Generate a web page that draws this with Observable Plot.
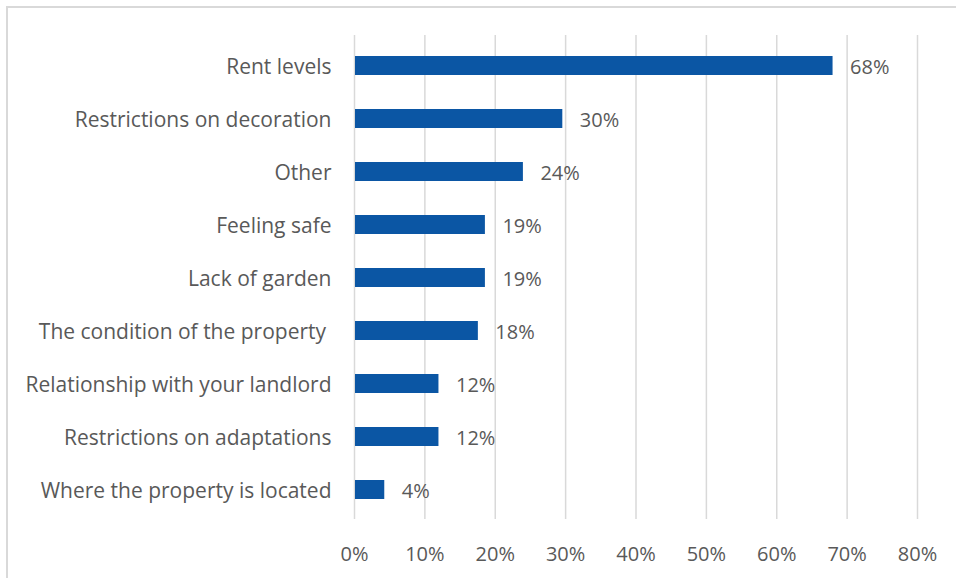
<!DOCTYPE html>
<html><head><meta charset="utf-8">
<script src="https://cdn.jsdelivr.net/npm/d3@7"></script>
<script src="https://cdn.jsdelivr.net/npm/@observablehq/plot@0.6"></script>
<style>
html,body{margin:0;padding:0;background:#fff;overflow:hidden;width:956px;height:578px}
#wrap{position:relative;width:956px;height:578px;overflow:hidden}
#frame{position:absolute;left:6px;top:6px;width:1000px;height:1000px;border:2px solid #d9d9d9;box-sizing:border-box;pointer-events:none}
svg{display:block}
</style></head>
<body><div id="wrap"><div id="frame"></div><div id="chart"></div></div>
<script>
const categories = ["Rent levels","Restrictions on decoration","Other","Feeling safe","Lack of garden","The condition of the property\u00A0","Relationship with your landlord","Restrictions on adaptations","Where the property is located"];
const values = [0.68,0.296,0.24,0.186,0.186,0.176,0.12,0.12,0.043];
const valueLabels = ["68%","30%","24%","19%","19%","18%","12%","12%","4%"];
const xTicks = [0,0.1,0.2,0.3,0.4,0.5,0.6,0.7,0.8];
const data = categories.map((c,i)=>({category:c, value:values[i], label:valueLabels[i]}));
const font = "'Open Sans', sans-serif";
const fsCat = 21, fsNum = 20;
const chart = Plot.plot({
  width:956, height:578,
  marginLeft:354, marginRight:39, marginTop:35, marginBottom:59,
  style:{fontFamily:font, fontSize:fsNum+"px", color:"#595959", background:"transparent"},
  x:{domain:[0,0.8], ticks:xTicks, tickFormat:d=>Math.round(d*100)+"%"},
  y:{domain:categories, paddingInner:0.647, paddingOuter:0.318, label:null},
  marks:[
    Plot.gridX(xTicks,{stroke:"#d9d9d9", strokeOpacity:1, strokeWidth:1.5}),
    Plot.barX(data,{x:"value", y:"category", fill:"#0b56a4", inset:0, insetLeft:1}),
    Plot.text(data,{x:"value", y:"category", text:"label", textAnchor:"start", dx:17, dy:2, fill:"#595959", fontSize:fsNum}),
    Plot.axisX({ticks:xTicks, tickFormat:d=>Math.round(d*100)+"%", tickSize:0, tickPadding:27, label:null, fontSize:fsNum, fill:"#595959"}),
    Plot.axisY({tickSize:0, tickPadding:23, dy:1, label:null, fontSize:fsCat, fill:"#595959"})
  ]
});
document.getElementById("chart").appendChild(chart);
</script>
</body></html>
